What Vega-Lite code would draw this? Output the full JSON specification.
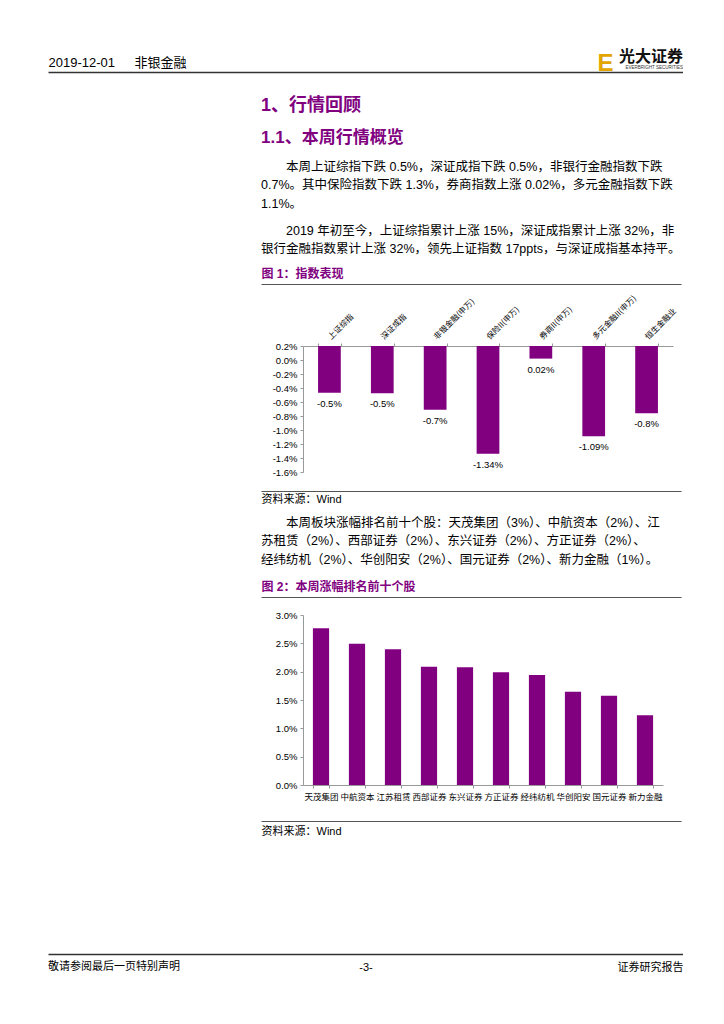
{
  "$schema": "https://vega.github.io/schema/vega-lite/v6.json",
  "padding": {"left": 45, "top": 48, "right": 0, "bottom": 0},
  "spacing": 0,
  "background": "white",
  "datasets": {
    "index": [
      {"name": "上证综指", "v": -0.467, "label": "-0.5%"},
      {"name": "深证成指", "v": -0.476, "label": "-0.5%"},
      {"name": "非银金融(申万)", "v": -0.71, "label": "-0.7%"},
      {"name": "保险II(申万)", "v": -1.34, "label": "-1.34%"},
      {"name": "券商II(申万)", "v": 0.02, "label": "0.02%"},
      {"name": "多元金融II(申万)", "v": -1.09, "label": "-1.09%"},
      {"name": "恒生金融业", "v": -0.76, "label": "-0.8%"}
    ],
    "stocks": [
      {"name": "天茂集团", "v": 2.765},
      {"name": "中航资本", "v": 2.494},
      {"name": "江苏租赁", "v": 2.394},
      {"name": "西部证券", "v": 2.088},
      {"name": "东兴证券", "v": 2.076},
      {"name": "方正证券", "v": 1.988},
      {"name": "经纬纺机", "v": 1.941},
      {"name": "华创阳安", "v": 1.647},
      {"name": "国元证券", "v": 1.576},
      {"name": "新力金融", "v": 1.229}
    ]
  },
  "config": {
    "view": {"stroke": null},
    "font": "Liberation Sans, Noto Sans CJK SC",
    "axis": {"grid": false, "labelColor": "#000", "titleColor": "#000", "domainColor": "#999", "tickColor": "#999", "labelFont": "Liberation Sans, Noto Sans CJK SC", "titleFont": "Liberation Sans, Noto Sans CJK SC"},
    "title": {"font": "Liberation Sans, Noto Sans CJK SC", "subtitleFont": "Liberation Sans, Noto Sans CJK SC"}
  },
  "vconcat": [
    {
      "width": 635, "height": 23.4,
      "data": {"name": "index"},
      "mark": {"type": "point", "size": 0, "opacity": 0},
      "encoding": {
        "x": {"field": "v", "type": "quantitative", "axis": {"orient": "top", "labels": false, "ticks": false, "grid": false, "domain": true, "domainColor": "#333", "domainWidth": 1.5, "minExtent": 0, "maxExtent": 0, "title": "2019-12-01\u2003\u2002非银金融", "titleAnchor": "start", "titleFontSize": 13, "titleFontWeight": "normal", "titlePadding": 2.3}},
        "y": {"field": "v", "type": "quantitative", "axis": {"orient": "right", "labels": false, "ticks": false, "domain": false, "grid": false, "minExtent": 0, "maxExtent": 0, "title": "E", "titleAngle": 0, "titleX": -70, "titleY": 3, "titleAlign": "right", "titleBaseline": "bottom", "titleFontSize": 24, "titleFontWeight": "bold", "titleColor": "#E3A500", "titleFont": "Liberation Sans"}}
      },
      "title": {"text": "光大证券", "subtitle": "EVERBRIGHT SECURITIES", "anchor": "end", "frame": "group", "offset": -18, "fontSize": 16, "fontWeight": "bold", "color": "#111", "font": "Noto Sans CJK SC", "subtitleFontSize": 4.5, "subtitleColor": "#333", "subtitlePadding": 0, "subtitleFont": "Liberation Sans"}
    },
    {
      "width": 635, "height": 13.85,
      "data": {"name": "index"},
      "mark": {"type": "point", "size": 0, "opacity": 0},
      "encoding": {
        "x": {"field": "v", "type": "quantitative", "axis": null},
        "y": {"field": "v", "type": "quantitative", "axis": null}
      },
      "title": {"text": "1、行情回顾", "subtitle": "1.1、本周行情概览", "anchor": "start", "frame": "group", "dx": 213, "offset": 0, "fontSize": 18, "fontWeight": "bold", "color": "#800080", "subtitleFontSize": 17, "subtitleFontWeight": "bold", "subtitleColor": "#800080", "subtitlePadding": 15.5}
    },
    {
      "width": 635, "height": 13.5,
      "data": {"name": "index"},
      "mark": {"type": "point", "size": 0, "opacity": 0},
      "encoding": {
        "x": {"field": "v", "type": "quantitative", "axis": null},
        "y": {"field": "v", "type": "quantitative", "axis": null}
      },
      "title": {"text": ["\u200b\u3000\u3000本周上证综指下跌 0.5%，深证成指下跌 0.5%，非银行金融指数下跌", "0.7%。其中保险指数下跌 1.3%，券商指数上涨 0.02%，多元金融指数下跌", "1.1%。"], "anchor": "start", "frame": "group", "dx": 213, "offset": 0, "fontSize": 12.5, "fontWeight": "normal", "color": "#000", "lineHeight": 18.5}
    },
    {
      "width": 635, "height": 0.01,
      "data": {"name": "index"},
      "mark": {"type": "point", "size": 0, "opacity": 0},
      "encoding": {
        "x": {"field": "v", "type": "quantitative", "scale": {"range": [213, 633]}, "axis": {"orient": "top", "labels": false, "ticks": false, "grid": false, "domain": true, "domainColor": "#555", "domainWidth": 1.2, "minExtent": 0, "maxExtent": 0, "title": "图 1：指数表现", "titleX": 213, "titleY": -3.9, "titleAlign": "left", "titleBaseline": "bottom", "titleFontSize": 12, "titleFontWeight": "bold", "titleColor": "#800080"}},
        "y": {"field": "v", "type": "quantitative", "axis": null}
      },
      "title": {"text": ["\u200b\u3000\u30002019 年初至今，上证综指累计上涨 15%，深证成指累计上涨 32%，非", "银行金融指数累计上涨 32%，领先上证指数 17ppts，与深证成指基本持平。"], "anchor": "start", "frame": "group", "dx": 213, "offset": 11.35, "fontSize": 12.5, "fontWeight": "normal", "color": "#000", "lineHeight": 18.5}
    },
    {
      "width": 625, "height": 126,
      "data": {"name": "index"},
      "encoding": {
        "x": {"field": "name", "type": "nominal", "sort": null, "scale": {"range": [255, 625], "paddingInner": 0.57, "paddingOuter": 0.285}, "axis": {"orient": "top", "labelAngle": -45, "labelAlign": "left", "labelBaseline": "middle", "labelFontSize": 8, "labelFont": "Noto Sans CJK SC", "labelPadding": 5, "labelOverlap": false, "ticks": true, "tickBand": "extent", "tickSize": 3, "title": null, "minExtent": 60.4, "maxExtent": 60.4}},
        "y": {"field": "v", "type": "quantitative", "scale": {"domain": [-1.6, 0.2], "nice": false, "zero": false}, "axis": {"offset": -255, "values": [-1.6, -1.4, -1.2, -1, -0.8, -0.6, -0.4, -0.2, 0, 0.2], "labelExpr": "(datum.value < 0 ? '-' : '') + format(abs(datum.value), '.1f') + '%'", "labelOverlap": false, "labelFontSize": 9.5, "labelPadding": 3, "tickSize": 3, "title": null, "minExtent": 0, "maxExtent": 0}}
      },
      "layer": [
        {
          "mark": {"type": "bar", "color": "#800080"},
          "encoding": {"y2": {"datum": 0.2}}
        },
        {
          "mark": {"type": "text", "baseline": "top", "dy": 6, "fontSize": 9.5, "color": "#000", "font": "Liberation Sans"},
          "encoding": {"text": {"field": "label"}}
        }
      ]
    },
    {
      "width": 635, "height": 24.75,
      "data": {"name": "index"},
      "mark": {"type": "point", "size": 0, "opacity": 0},
      "encoding": {
        "x": {"field": "v", "type": "quantitative", "scale": {"range": [213, 633]}, "axis": {"orient": "top", "labels": false, "ticks": false, "grid": false, "domain": true, "domainColor": "#555", "domainWidth": 1.2, "minExtent": 13.25, "maxExtent": 13.25, "title": "资料来源：Wind", "titleX": 213, "titleY": 2.4, "titleAlign": "left", "titleBaseline": "top", "titleFontSize": 11, "titleFontWeight": "normal"}},
        "y": {"field": "v", "type": "quantitative", "axis": null}
      }
    },
    {
      "width": 635, "height": 12.25,
      "data": {"name": "index"},
      "mark": {"type": "point", "size": 0, "opacity": 0},
      "encoding": {
        "x": {"field": "v", "type": "quantitative", "scale": {"range": [213, 633]}, "axis": {"orient": "top", "labels": false, "ticks": false, "grid": false, "domain": true, "domainColor": "#555", "domainWidth": 1.2, "minExtent": 0, "maxExtent": 0, "title": "图 2：本周涨幅排名前十个股", "titleX": 213, "titleY": -3.9, "titleAlign": "left", "titleBaseline": "bottom", "titleFontSize": 12, "titleFontWeight": "bold", "titleColor": "#800080"}},
        "y": {"field": "v", "type": "quantitative", "axis": null}
      },
      "title": {"text": ["\u200b\u3000\u3000本周板块涨幅排名前十个股：天茂集团（3%）、中航资本（2%）、江", "苏租赁（2%）、西部证券（2%）、东兴证券（2%）、方正证券（2%）、", "经纬纺机（2%）、华创阳安（2%）、国元证券（2%）、新力金融（1%）。"], "anchor": "start", "frame": "group", "dx": 213, "offset": 13.85, "fontSize": 12.5, "fontWeight": "normal", "color": "#000", "lineHeight": 18.5}
    },
    {
      "width": 615, "height": 170,
      "data": {"name": "stocks"},
      "mark": {"type": "bar", "color": "#800080"},
      "encoding": {
        "x": {"field": "name", "type": "nominal", "sort": null, "scale": {"range": [255, 615], "paddingInner": 0.55, "paddingOuter": 0.275}, "axis": {"labelAngle": 0, "labelFontSize": 8.5, "labelFont": "Noto Sans CJK SC", "labelPadding": 4.5, "labelOverlap": false, "tickBand": "extent", "tickSize": 3, "title": null}},
        "y": {"field": "v", "type": "quantitative", "scale": {"domain": [0, 3], "nice": false}, "axis": {"offset": -255, "values": [0, 0.5, 1, 1.5, 2, 2.5, 3], "labelExpr": "format(datum.value, '.1f') + '%'", "labelOverlap": false, "labelFontSize": 9.5, "labelPadding": 3, "tickSize": 3, "title": null, "minExtent": 0, "maxExtent": 0}}
      }
    },
    {
      "width": 635, "height": 101,
      "data": {"name": "index"},
      "mark": {"type": "point", "size": 0, "opacity": 0},
      "encoding": {
        "x": {"field": "v", "type": "quantitative", "scale": {"range": [213, 633]}, "axis": {"orient": "top", "labels": false, "ticks": false, "grid": false, "domain": true, "domainColor": "#555", "domainWidth": 1.2, "minExtent": 19.5, "maxExtent": 19.5, "title": "资料来源：Wind", "titleX": 213, "titleY": 4.4, "titleAlign": "left", "titleBaseline": "top", "titleFontSize": 11, "titleFontWeight": "normal"}},
        "y": {"field": "v", "type": "quantitative", "axis": null}
      }
    },
    {
      "width": 635, "height": 0.01,
      "data": {"name": "index"},
      "mark": {"type": "point", "size": 0, "opacity": 0},
      "encoding": {
        "x": {"field": "v", "type": "quantitative", "axis": {"orient": "top", "labels": false, "ticks": false, "grid": false, "domain": true, "domainColor": "#333", "domainWidth": 1.5, "minExtent": 32, "maxExtent": 32, "title": "-3-", "titleX": 317.5, "titleY": 7.4, "titleAlign": "center", "titleBaseline": "top", "titleFontSize": 11, "titleFontWeight": "normal"}},
        "y": {"field": "v", "type": "quantitative", "axis": {"orient": "right", "labels": false, "ticks": false, "domain": false, "grid": false, "minExtent": 0, "maxExtent": 0, "title": "证券研究报告", "titleAngle": 0, "titleX": 0, "titleY": 7.4, "titleAlign": "right", "titleBaseline": "top", "titleFontSize": 11, "titleFontWeight": "normal"}}
      },
      "title": {"text": "敬请参阅最后一页特别声明", "orient": "bottom", "anchor": "start", "frame": "group", "offset": -11, "fontSize": 11, "fontWeight": "normal", "color": "#000"}
    }
  ]
}
